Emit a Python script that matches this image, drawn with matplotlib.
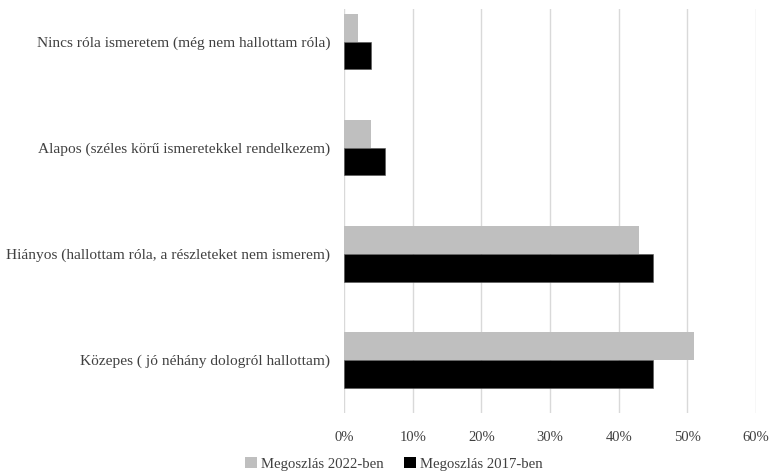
import matplotlib
matplotlib.use("Agg")
import matplotlib.pyplot as plt
import numpy as np
from matplotlib.patches import Patch

categories = [
    "Nincs róla ismeretem (még nem hallottam róla)",
    "Alapos (széles körű ismeretekkel rendelkezem)",
    "Hiányos (hallottam róla, a részleteket nem ismerem)",
    "Közepes ( jó néhány dologról hallottam)",
]
share_2022 = [2, 4, 43, 51]
share_2017 = [4, 6, 45, 45]
series_labels = ["Megoszlás 2022-ben", "Megoszlás 2017-ben"]
x_ticks = [0, 10, 20, 30, 40, 50, 60]

plt.rcParams["font.family"] = ["Liberation Serif", "DejaVu Serif"]

fig = plt.figure(figsize=(7.70, 4.74), dpi=100)
ax = fig.add_axes([344 / 770, 1 - 413 / 474, (756 - 344) / 770, (413 - 9) / 474])

y = np.arange(len(categories))
h = 0.26
ax.barh(y - h / 2, share_2022, height=h, color="#bfbfbf", zorder=3)
ax.barh(y + h / 2, share_2017, height=h, color="#000000",
        edgecolor="#555555", linewidth=0.4, zorder=3)

ax.set_xlim(0, 60)
ax.set_ylim(3.5, -0.31)
ax.set_xticks(x_ticks)
ax.set_xticklabels([f"{t}%" for t in x_ticks], fontsize=10.5, color="#404040")
ax.set_yticks(y)
ax.set_yticklabels(categories, fontsize=11.1, color="#404040")
ax.tick_params(axis="both", length=0)
ax.tick_params(axis="y", pad=10)
ax.tick_params(axis="x", pad=13)
ax.grid(axis="x", color="#d9d9d9", linewidth=1.0, zorder=0)
for s in ax.spines.values():
    s.set_visible(False)

handles = [Patch(facecolor="#bfbfbf", label=series_labels[0]),
           Patch(facecolor="#000000", label=series_labels[1])]
fig.legend(handles=handles, loc="center", bbox_to_anchor=(394 / 770, 1 - 464 / 474),
           ncol=2, frameon=False, fontsize=10.6, handlelength=0.8, handleheight=0.8,
           handletextpad=0.3, columnspacing=1.4, labelcolor="#404040")

fig.savefig("out.png", dpi=100)
